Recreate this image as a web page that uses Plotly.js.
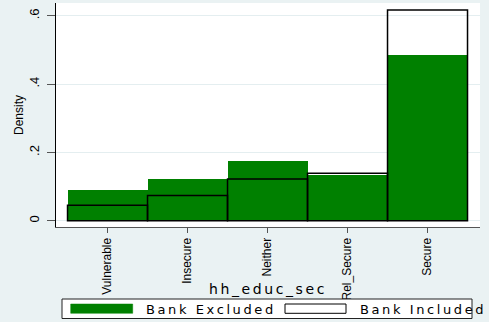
<!DOCTYPE html>
<html><head><meta charset="utf-8">
<script src="https://cdn.plot.ly/plotly-3.0.1.min.js"></script>
<style>
html,body{margin:0;padding:0;background:#EAF2F3;}
#chart{width:489px;height:322px;}
.annotation-text {letter-spacing:2.6px;}
</style>
</head><body><div id="chart"></div>
<script>
const categories = ["Vulnerable","Insecure","Neither","Rel_Secure","Secure"];
const bankExcluded = [0.090,0.121,0.175,0.134,0.485];
const bankIncluded = [0.045,0.074,0.122,0.139,0.617];
const yTickVals = [0,0.2,0.4,0.6];
const yTickText = ["0",".2",".4",".6"];
const seriesNames = ["Bank Excluded","Bank Included"];
const xTitle = "hh_educ_sec";
const yTitle = "Density";

const W = 489, H = 322, L = 56, R = 9, T = 3, B = 95;
const pw = W - L - R, ph = H - T - B;
const px = v => (v - L) / pw;
const py = v => (H - B - v) / ph;

const green = "#008000";
const tickFont = {family: "Liberation Sans, Arial, sans-serif", size: 12, color: "#000"};

const traces = [
  {type: "bar", x: categories, y: bankExcluded, name: seriesNames[0], width: 1,
   marker: {color: green, line: {width: 0}}, hoverinfo: "skip"},
  {type: "bar", x: categories, y: bankIncluded, name: seriesNames[1], width: 1,
   marker: {color: "rgba(0,0,0,0)", line: {color: "#000", width: 1.5}}, hoverinfo: "skip"}
];

const layout = {
  width: W, height: H,
  margin: {l: L, r: R, t: T, b: B, pad: 0},
  paper_bgcolor: "#EAF2F3", plot_bgcolor: "#FFFFFF",
  barmode: "overlay", bargap: 0, showlegend: false,
  font: {family: "Liberation Sans, Arial, sans-serif", color: "#000"},
  xaxis: {
    type: "category", range: [-0.644, 4.656],
    showline: true, linecolor: "#555", linewidth: 1,
    ticks: "outside", ticklen: 5, tickcolor: "#555",
    tickangle: -90, tickfont: tickFont, showgrid: false, zeroline: false
  },
  yaxis: {
    range: [-0.0184, 0.6375],
    tickvals: yTickVals, ticktext: yTickText, tickangle: -90,
    showline: true, linecolor: "#000", linewidth: 1,
    ticks: "outside", ticklen: 8, tickcolor: "#555", ticklabelstandoff: 3,
    tickfont: {family: "Liberation Sans, Arial, sans-serif", size: 13, color: "#000"},
    showgrid: true, gridcolor: "#E4EEF0", gridwidth: 1, zeroline: false,
    title: {text: yTitle, font: {family: "Liberation Sans, Arial, sans-serif", size: 12, color: "#000"}, standoff: 0}
  },
  shapes: [
    {type: "rect", xref: "paper", yref: "paper", x0: px(62), x1: px(472), y0: py(299), y1: py(318.5),
     fillcolor: "#FFFFFF", line: {color: "#222", width: 1}, layer: "above"},
    {type: "rect", xref: "paper", yref: "paper", x0: px(70.7), x1: px(132.7), y0: py(304), y1: py(313.3),
     fillcolor: green, line: {color: green, width: 0.5}, layer: "above"},
    {type: "rect", xref: "paper", yref: "paper", x0: px(285), x1: px(346), y0: py(304), y1: py(313.3),
     fillcolor: "#FFFFFF", line: {color: "#000", width: 1}, layer: "above"}
  ],
  annotations: [
    {xref: "paper", yref: "paper", x: 0.5, y: py(289), xanchor: "center", yanchor: "middle",
     text: xTitle, showarrow: false, font: {family: "DejaVu Sans, sans-serif", size: 14, color: "#000"}},
    {xref: "paper", yref: "paper", x: px(144), y: py(309), xanchor: "left", yanchor: "middle",
     text: seriesNames[0], showarrow: false, font: {family: "DejaVu Sans, sans-serif", size: 13, color: "#000"}},
    {xref: "paper", yref: "paper", x: px(358), y: py(309), xanchor: "left", yanchor: "middle",
     text: seriesNames[1], showarrow: false, font: {family: "DejaVu Sans, sans-serif", size: 13, color: "#000"}}
  ]
};

Plotly.newPlot("chart", traces, layout, {staticPlot: true, displayModeBar: false});
</script>
</body></html>
